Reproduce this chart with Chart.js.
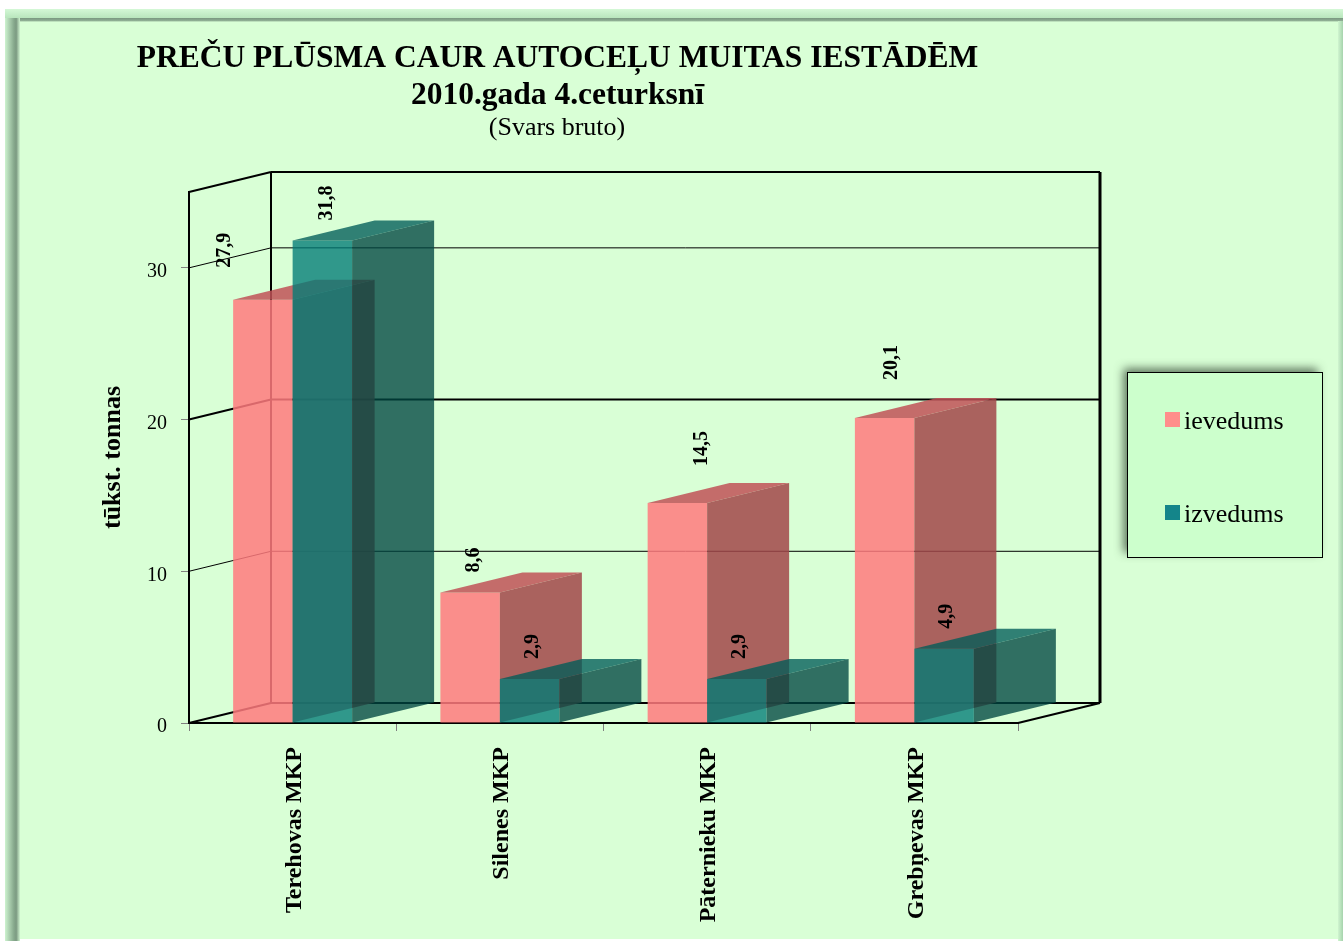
<!DOCTYPE html>
<html>
<head>
<meta charset="utf-8">
<title>Preču plūsma</title>
<script src="https://cdn.jsdelivr.net/npm/chart.js@4"></script>
<style>
    html, body { margin: 0; padding: 0; background: #fff; overflow: hidden; }
    canvas { display: block; }
</style>
</head>
<body>
<canvas id="chart" width="1343" height="941"></canvas>
<script>
// data
var categories = ['Terehovas MKP', 'Silenes MKP', 'Pāternieku MKP', 'Grebņevas MKP'];
var ievedums = [27.9, 8.6, 14.5, 20.1];
var izvedums = [31.8, 2.9, 2.9, 4.9];
var seriesNames = ['ievedums', 'izvedums'];
var titleLines = ['PREČU PLŪSMA CAUR AUTOCEĻU MUITAS IESTĀDĒM', '2010.gada 4.ceturksnī'];
var subtitle = '(Svars bruto)';
var yTitle = 'tūkst. tonnas';

// 3d look
var depthX = 82, depthY = -20;
var serif = '"Liberation Serif", "Times New Roman", serif';
var bg = '#d9ffd6';

// hand placed labels in the original, offset from the default spot
var labelNudge = [
    [[-41, -12], [1, 0]],
    [[1, 0], [0, 0]],
    [[21, -17], [0, 0]],
    [[4, -18], [0, 0]]
];

var sideColors = ['rgba(161, 70, 73, 0.85)', 'rgba(0, 70, 65, 0.78)'];
var topColors = ['rgba(192, 82, 87, 0.85)', 'rgba(0, 92, 88, 0.78)'];
var frontColors = ['rgba(255, 122, 126, 0.85)', 'rgba(0, 123, 118, 0.78)'];
var legendColors = ['#ff8e8b', '#14858a'];

function poly(ctx, pts, color) {
    ctx.fillStyle = color;
    ctx.beginPath();
    ctx.moveTo(pts[0][0], pts[0][1]);
    for (var i = 1; i < pts.length; i++) ctx.lineTo(pts[i][0], pts[i][1]);
    ctx.closePath();
    ctx.fill();
}

function line(ctx, x1, y1, x2, y2, w) {
    ctx.strokeStyle = '#000';
    ctx.lineWidth = w;
    ctx.beginPath();
    ctx.moveTo(x1, y1);
    ctx.lineTo(x2, y2);
    ctx.stroke();
}

// side and top faces of each bar
function drawFaces(chart, i) {
    var ctx = chart.ctx;
    chart.getDatasetMeta(i).data.forEach(function(bar) {
        var half = bar.width / 2;
        var l = bar.x - half, r = bar.x + half;
        poly(ctx, [[r, bar.y], [r + depthX, bar.y + depthY], [r + depthX, bar.base + depthY], [r, bar.base]], sideColors[i]);
        poly(ctx, [[l, bar.y], [l + depthX, bar.y + depthY], [r + depthX, bar.y + depthY], [r, bar.y]], topColors[i]);
    });
}

var framePlugin = {
    id: 'frame',
    // page background and bevelled border
    beforeDraw: function(chart) {
        var ctx = chart.ctx;
        ctx.save();
        ctx.fillStyle = '#fff';
        ctx.fillRect(0, 0, 1343, 941);

        var g = ctx.createLinearGradient(0, 9, 0, 22);
        g.addColorStop(0, '#d4f8d6');
        g.addColorStop(0.68, '#b9e6bd');
        g.addColorStop(0.72, '#7c9a82');
        g.addColorStop(0.9, '#8fae94');
        g.addColorStop(1, bg);
        ctx.fillStyle = g;
        ctx.fillRect(5, 9, 1338, 13);

        ctx.fillStyle = bg;
        ctx.fillRect(19, 22, 1324, 917);

        g = ctx.createLinearGradient(5, 0, 20, 0);
        g.addColorStop(0, '#cdf3cf');
        g.addColorStop(0.6, '#86a88c');
        g.addColorStop(0.75, '#7c9a82');
        g.addColorStop(1, '#d0f5d0');
        ctx.fillStyle = g;
        ctx.fillRect(5, 18, 15, 923);

        g = ctx.createLinearGradient(1338, 0, 1343, 0);
        g.addColorStop(0, '#d0f5d0');
        g.addColorStop(1, '#a6d3ad');
        ctx.fillStyle = g;
        ctx.fillRect(1338, 21, 5, 920);
        ctx.restore();
    },
    // walls and grid go behind the bars, then the series in turn so izvedums lies over ievedums
    beforeDatasetsDraw: function(chart) {
        var ctx = chart.ctx, y = chart.scales.y, a = chart.chartArea;
        var bx = a.left + depthX, br = a.right + depthX, by = a.bottom + depthY;
        var top = y.getPixelForValue(y.max);
        ctx.save();
        line(ctx, a.left, top, bx, top + depthY, 2);
        line(ctx, bx, top + depthY, br, top + depthY, 2);
        line(ctx, bx, top + depthY, bx, by, 2);
        line(ctx, br, top + depthY, br, by, 3);
        line(ctx, a.left, a.bottom, bx, by, 2);
        line(ctx, bx, by, br, by, 2);
        line(ctx, a.right, a.bottom, br, by, 2);
        y.ticks.forEach(function(t) {
            if (t.value === 0) return;
            var py = y.getPixelForValue(t.value);
            var w = t.value === 20 ? 2 : 1;
            line(ctx, a.left, py, bx, py + depthY, w);
            line(ctx, bx, py + depthY, br, py + depthY, w);
        });
        [0, 1].forEach(function(i) {
            chart.getDatasetMeta(i).controller.draw();
            drawFaces(chart, i);
        });
        ctx.restore();
        return false;
    },
    afterDraw: function(chart) {
        var ctx = chart.ctx;
        ctx.save();
        ctx.fillStyle = '#000';
        ctx.textBaseline = 'alphabetic';
        ctx.textAlign = 'center';

        // title
        ctx.font = 'bold 31.5px ' + serif;
        ctx.fillText(titleLines[0], 557.5, 67);
        ctx.fillText(titleLines[1], 557.5, 104);
        ctx.font = '26px ' + serif;
        ctx.fillText(subtitle, 557, 135);

        // value labels, rotated
        ctx.font = 'bold 20px ' + serif;
        ctx.textAlign = 'left';
        ctx.textBaseline = 'middle';
        chart.data.datasets.forEach(function(ds, i) {
            chart.getDatasetMeta(i).data.forEach(function(bar, j) {
                var n = labelNudge[j][i];
                ctx.save();
                ctx.translate(bar.x + 3 + n[0], bar.y - 20 + n[1]);
                ctx.rotate(-Math.PI / 2);
                ctx.fillText(ds.data[j].toFixed(1).replace('.', ','), 0, 0);
                ctx.restore();
            });
        });

        // legend box
        ctx.save();
        ctx.shadowColor = 'rgba(60, 80, 60, 0.8)';
        ctx.shadowBlur = 9;
        ctx.shadowOffsetX = -5;
        ctx.shadowOffsetY = -5;
        ctx.fillStyle = '#ccffcc';
        ctx.fillRect(1127.5, 372.5, 195, 185);
        ctx.restore();
        ctx.strokeStyle = '#000';
        ctx.lineWidth = 1;
        ctx.strokeRect(1127.5, 372.5, 195, 185);

        ctx.font = '26px ' + serif;
        ctx.textBaseline = 'alphabetic';
        ctx.textAlign = 'left';
        [420, 513].forEach(function(cy, i) {
            ctx.fillStyle = legendColors[i];
            ctx.fillRect(1165, cy - 8, 15, 15);
            ctx.fillStyle = '#000';
            ctx.fillText(seriesNames[i], 1184, cy + 9);
        });
        ctx.restore();
    }
};

var chart = new Chart(document.getElementById('chart'), {
    type: 'bar',
    data: {
        labels: categories,
        datasets: [
            { label: seriesNames[0], data: ievedums, backgroundColor: frontColors[0] },
            { label: seriesNames[1], data: izvedums, backgroundColor: frontColors[1] }
        ]
    },
    options: {
        responsive: false,
        animation: false,
        events: [],
        layout: { padding: { top: 192, right: 325, left: 0, bottom: 0 } },
        datasets: {
            bar: { categoryPercentage: 0.574, barPercentage: 1 }
        },
        plugins: {
            legend: { display: false },
            title: { display: false },
            tooltip: { enabled: false }
        },
        scales: {
            x: {
                afterFit: function(s) { s.height = 218; },
                border: { color: '#000', width: 2 },
                grid: { drawOnChartArea: false, color: '#808080', tickLength: 8 },
                ticks: {
                    minRotation: 90,
                    maxRotation: 90,
                    autoSkip: false,
                    padding: 16,
                    labelOffset: 2,
                    color: '#000',
                    font: { family: serif, size: 24, weight: 'bold' }
                }
            },
            y: {
                min: 0,
                max: 35,
                afterFit: function(s) { s.width = 189; },
                border: { color: '#000', width: 2 },
                grid: { drawOnChartArea: false, color: '#808080', tickLength: 8 },
                title: {
                    display: true,
                    text: yTitle,
                    color: '#000',
                    padding: { top: 98, bottom: 0 },
                    font: { family: serif, size: 26, weight: 'bold' }
                },
                ticks: {
                    stepSize: 10,
                    includeBounds: false,
                    padding: 14,
                    color: '#000',
                    // blank first line pushes the number 4px below the tick, as in the original
                    callback: function(v) { return ['', String(v)]; },
                    font: { family: serif, size: 20, lineHeight: 0.4 }
                }
            }
        }
    },
    plugins: [framePlugin]
});
</script>
</body>
</html>
